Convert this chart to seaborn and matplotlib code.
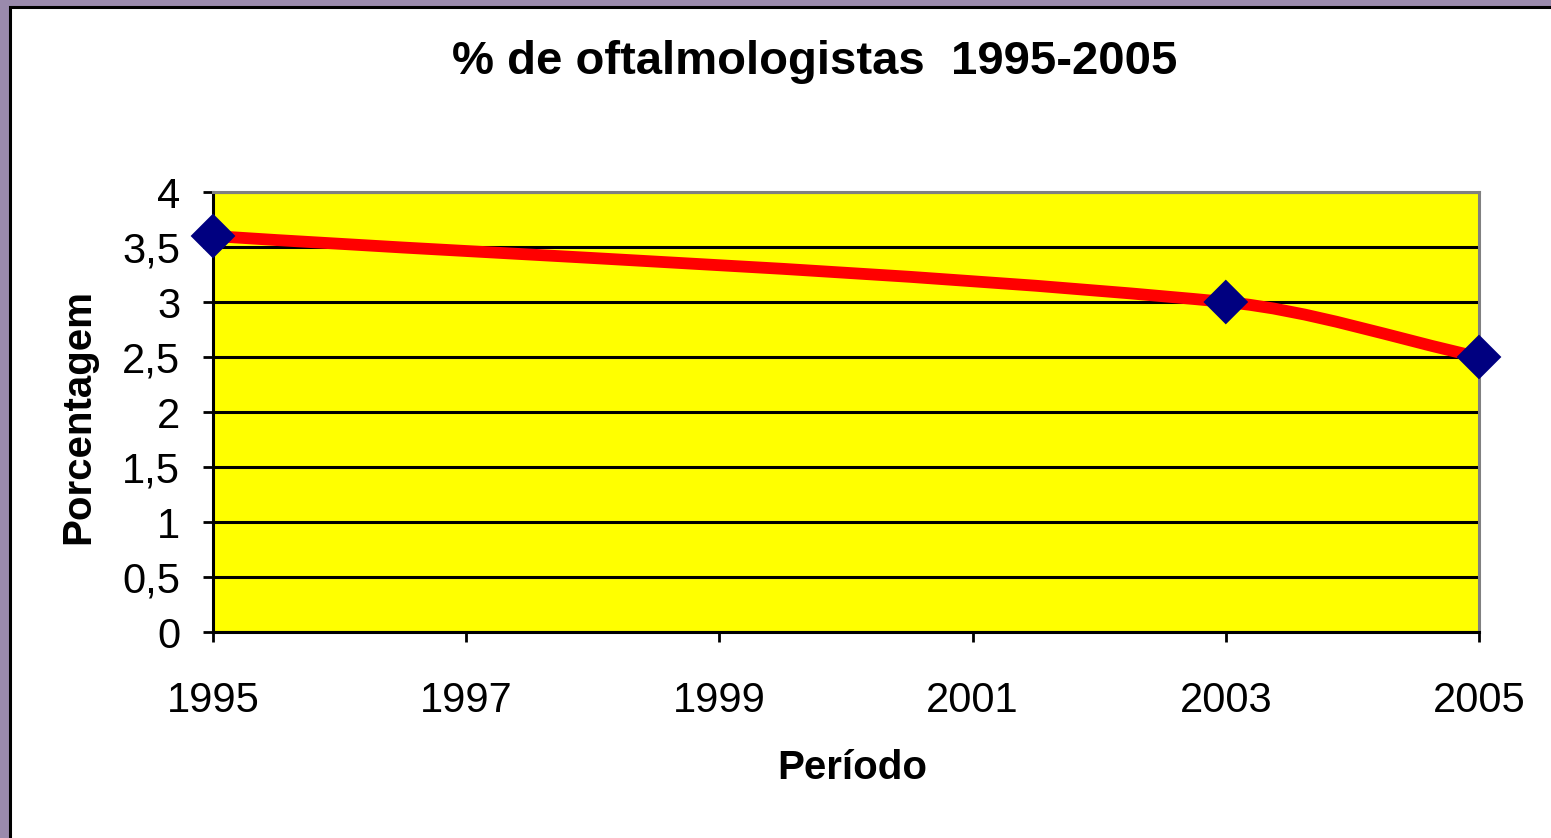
import numpy as np
import pandas as pd
import matplotlib
matplotlib.use("Agg")
import matplotlib.pyplot as plt
from matplotlib.path import Path
from matplotlib.patches import PathPatch, Rectangle
import seaborn as sns

# category axis (Excel-style), only some years have a value
categories = ["1995", "1997", "1999", "2001", "2003", "2005"]
years = ["1995", "2003", "2005"]
percent = [3.6, 3.0, 2.5]
ytick_values = [0, 0.5, 1, 1.5, 2, 2.5, 3, 3.5, 4]
ytick_labels = ["0", "0,5", "1", "1,5", "2", "2,5", "3", "3,5", "4"]

df = pd.DataFrame({"ano": years, "pct": percent})
df["pos"] = [categories.index(a) for a in df["ano"]]

sns.set_style("white")
plt.rcParams["font.family"] = ["Liberation Sans", "DejaVu Sans"]
plt.rcParams["text.color"] = "black"
plt.rcParams["axes.labelcolor"] = "black"
plt.rcParams["xtick.color"] = "black"
plt.rcParams["ytick.color"] = "black"

fig = plt.figure(figsize=(15.51, 8.38), dpi=100, facecolor="#9a8aac")
# white chart area with black edge on top/left
fig.patches.append(Rectangle((9.5 / 1551, -0.05), 1.2, 1 - 7.5 / 838 + 0.05,
                             transform=fig.transFigure, facecolor="white",
                             edgecolor="black", linewidth=2.2, zorder=-10))

ax = fig.add_axes([213 / 1551, 1 - 632 / 838, 1266 / 1551, 440 / 838])
ax.set_zorder(5)
ax.set_facecolor("#ffff00")


def smooth_path(xs, ys):
    # cubic hermite -> bezier segments, like excel's "smoothed line"
    xs = np.asarray(xs, float)
    ys = np.asarray(ys, float)
    n = len(xs)
    m = np.zeros(n)
    m[0] = (ys[1] - ys[0]) / (xs[1] - xs[0])
    m[-1] = (ys[-1] - ys[-2]) / (xs[-1] - xs[-2])
    for i in range(1, n - 1):
        m[i] = (ys[i + 1] - ys[i - 1]) / (xs[i + 1] - xs[i - 1])
    verts = [(xs[0], ys[0])]
    codes = [Path.MOVETO]
    for i in range(n - 1):
        h = xs[i + 1] - xs[i]
        verts += [(xs[i] + h / 3, ys[i] + m[i] * h / 3),
                  (xs[i + 1] - h / 3, ys[i + 1] - m[i + 1] * h / 3),
                  (xs[i + 1], ys[i + 1])]
        codes += [Path.CURVE4] * 3
    return Path(verts, codes)


ax.add_patch(PathPatch(smooth_path(df["pos"], df["pct"]), facecolor="none",
                       edgecolor="#ff0000", linewidth=8.5, capstyle="butt",
                       zorder=3))
sns.scatterplot(data=df, x="pos", y="pct", marker="D", s=520, color="#000080",
                edgecolor="none", ax=ax, zorder=4, clip_on=False, legend=False)

ax.set_xlim(0, len(categories) - 1)
ax.set_ylim(0, 4)
ax.set_xticks(range(len(categories)))
ax.set_xticklabels(categories)
ax.set_yticks(ytick_values)
ax.set_yticklabels(ytick_labels)
ax.yaxis.grid(True, color="black", linewidth=2.2)
ax.xaxis.grid(False)
ax.set_axisbelow(True)

ax.tick_params(axis="both", direction="out", length=7.5, width=2, color="black",
               labelsize=30, bottom=True, left=True)
ax.tick_params(axis="x", pad=28)
ax.tick_params(axis="y", pad=16)

for side in ["left", "bottom"]:
    ax.spines[side].set_color("black")
    ax.spines[side].set_linewidth(2.2)
for side in ["top", "right"]:
    ax.spines[side].set_visible(True)
    ax.spines[side].set_color("#808080")
    ax.spines[side].set_linewidth(2.2)

ax.set_xlabel("Período", fontsize=29, fontweight="bold", va="center")
ax.xaxis.set_label_coords((852 - 213) / 1266, (632 - 768) / 440)
ax.set_ylabel("Porcentagem", fontsize=29, fontweight="bold", va="center")
ax.yaxis.set_label_coords((78 - 213) / 1266, (632 - 417) / 440)

fig.text(815 / 1551, 1 - 62 / 838, "% de oftalmologistas  1995-2005",
         ha="center", va="center", fontsize=34, fontweight="bold")

fig.savefig("out.png", dpi=100, facecolor=fig.get_facecolor())
